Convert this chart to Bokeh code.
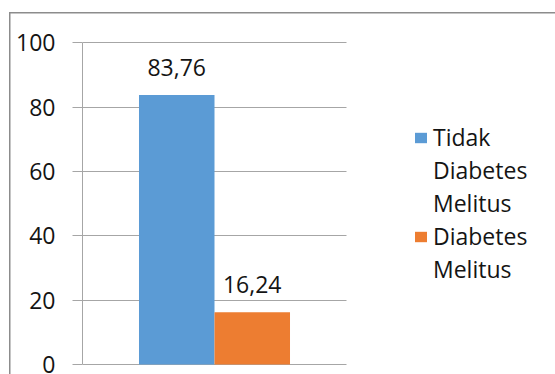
from bokeh.plotting import figure
from bokeh.models import (ColumnDataSource, Range1d, Legend, LegendItem, LabelSet)
from bokeh.core.properties import value
from bokeh.embed import file_html
from bokeh.resources import INLINE

# Data
category = ["Status"]
series_names = ["Tidak Diabetes Melitus", "Diabetes Melitus"]
legend_lines = [["Tidak", "Diabetes", "Melitus"], ["Diabetes", "Melitus"]]
series_values = [83.76, 16.24]
series_colors = ["#5B9BD5", "#ED7D31"]
y_ticks = [0, 20, 40, 60, 80, 100]

FONT = "Open Sans"
TEXT_COLOR = "#141414"
GRID_COLOR = "#a6a6a6"
EDGE_COLOR = "#8c8c8c"
bar_width = 0.286          # in category units
slot_px = 264              # pixel width of one category slot
W, H = 555, 374
LEFT = 82

p = figure(width=W, height=H, output_backend="svg", toolbar_location=None,
           x_range=Range1d(0, (W - LEFT) / slot_px),
           y_range=Range1d(-3.11, 109.1),
           min_border_left=LEFT, min_border_right=0, min_border_top=13,
           min_border_bottom=0)
p.outline_line_color = None
p.background_fill_color = None
p.border_fill_color = None
# white chart area with its thin grey edge along the top and left
edge = f"linear-gradient({EDGE_COLOR}, {EDGE_COLOR})"
p.styles = {
    "background": f"{edge} 9px 12px / 600px 1.5px no-repeat, "
                  f"{edge} 9px 12px / 1.5px 400px no-repeat, white"
}

centers = [i + 0.5 for i in range(len(category))]
n = len(series_values)
legend_items = []
for i, (name, val, col) in enumerate(zip(series_names, series_values, series_colors)):
    offset = (i - (n - 1) / 2) * bar_width
    src = ColumnDataSource(dict(x=[c + offset for c in centers], val=[val],
                                lbl=[f"{val:.2f}".replace(".", ",")]))
    r = p.vbar(x="x", top="val", width=bar_width, source=src,
               fill_color=col, line_color=None, name=name)
    p.add_layout(LabelSet(x="x", y="val", text="lbl", source=src, y_offset=19,
                          text_align="center", text_baseline="alphabetic",
                          text_font=value(FONT), text_font_size="23px",
                          text_color=TEXT_COLOR))
    # first line carries the colour swatch, the wrapped lines carry a blank one
    blank = p.vbar(x=[], top=[], width=bar_width, fill_alpha=0, line_alpha=0)
    lines = legend_lines[i]
    legend_items.append(LegendItem(label=lines[0], renderers=[r]))
    for extra in lines[1:]:
        legend_items.append(LegendItem(label=extra, renderers=[blank]))

# Axes
p.xaxis.visible = False
p.xgrid.visible = False
yax = p.yaxis[0]
yax.ticker = y_ticks
yax.bounds = (0, 100)
yax.axis_line_color = GRID_COLOR
yax.major_tick_line_color = GRID_COLOR
yax.major_tick_out = 10
yax.major_tick_in = 0
yax.minor_tick_line_color = None
yax.major_label_standoff = 17
yax.major_label_text_font = FONT
yax.major_label_text_font_size = "23px"
yax.major_label_text_color = TEXT_COLOR
p.ygrid.ticker = y_ticks
p.ygrid.grid_line_color = GRID_COLOR
p.ygrid.cross_bounds = (0, len(category))

legend = Legend(items=legend_items, location=(331, 89), orientation="vertical",
                border_line_color=None, background_fill_alpha=0,
                padding=0, margin=0, spacing=1,
                glyph_width=15, glyph_height=13, label_standoff=5,
                label_text_font=FONT, label_text_font_size="23px",
                label_text_color=TEXT_COLOR)
p.add_layout(legend)

open("out.html", "w").write(file_html(p, INLINE))
